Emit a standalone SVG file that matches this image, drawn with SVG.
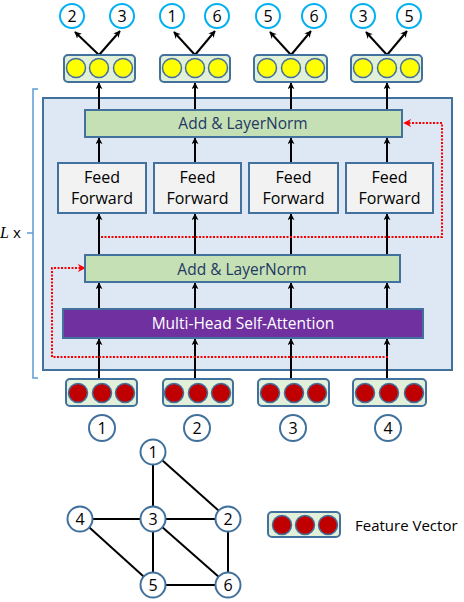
<svg xmlns="http://www.w3.org/2000/svg" width="464" height="602" viewBox="0 0 464 602">
<defs>
<marker id="ah" viewBox="0 0 10 10" refX="9" refY="5" markerWidth="7" markerHeight="7" orient="auto" markerUnits="userSpaceOnUse">
<path d="M0,0 L10,5 L0,10 L3,5 z" fill="#000"/>
</marker>
<marker id="ahr" viewBox="0 0 10 10" refX="9" refY="5" markerWidth="8" markerHeight="8" orient="auto" markerUnits="userSpaceOnUse">
<path d="M0,0 L10,5 L0,10 L3,5 z" fill="#FF0000"/>
</marker>
<style>
.t{font-family:"Open Sans","Liberation Sans",sans-serif;}
.fv{fill:#E2F0D9;stroke:#41719C;stroke-width:2;}
.yc{fill:#FFFF00;stroke:#41719C;stroke-width:1.5;}
.rc{fill:#C00000;stroke:#41719C;stroke-width:1.5;}
.oc{fill:#fff;stroke:#00B0F0;stroke-width:2;}
.nc{fill:#fff;stroke:#41719C;stroke-width:2;}
.ln{fill:#C5E0B4;stroke:#41719C;stroke-width:2;}
.ff{fill:#F2F2F2;stroke:#41719C;stroke-width:2;}
.ar{stroke:#000;stroke-width:2;fill:none;marker-end:url(#ah);}
.ed{stroke:#000;stroke-width:2;fill:none;}
.rd{stroke:#FF0000;stroke-width:2;stroke-dasharray:2,1.5;fill:none;marker-end:url(#ahr);}
.lbl{font-size:16px;fill:#000;text-anchor:middle;}
</style>
</defs>

<g id="bracket">
<path d="M38,89 H33 V378 H38" fill="none" stroke="#5B9BD5" stroke-width="1.5"/>
<line x1="27" y1="233" x2="33" y2="233" stroke="#5B9BD5" stroke-width="1.5"/>
<text x="0" y="238" font-family="Liberation Serif,serif" font-style="italic" font-size="16">L</text>
<text x="13" y="238" class="t" font-size="15">x</text>
</g>

<g id="layer">
<rect x="43" y="98" width="409" height="272" fill="#DEE8F5" stroke="#41719C" stroke-width="2"/>
</g>

<g id="connectors">
<path class="ar" d="M99,55 L75,32"/><path class="ar" d="M99,55 L120,31"/>
<path class="ar" d="M195,55 L174,32"/><path class="ar" d="M195,55 L215,31"/>
<path class="ar" d="M291,55 L270,32"/><path class="ar" d="M291,55 L311,31"/>
<path class="ar" d="M387,55 L366,32"/><path class="ar" d="M387,55 L407,31"/>
<path class="ar" d="M99,110 V83"/><path class="ar" d="M195,110 V83"/><path class="ar" d="M291,110 V83"/><path class="ar" d="M387,110 V83"/>
<path class="ar" d="M99,163 V138"/><path class="ar" d="M195,163 V138"/><path class="ar" d="M291,163 V138"/><path class="ar" d="M387,163 V138"/>
<path class="ar" d="M99,255 V214"/><path class="ar" d="M195,255 V214"/><path class="ar" d="M291,255 V214"/><path class="ar" d="M387,255 V214"/>
<path class="ar" d="M99,309 V283"/><path class="ar" d="M195,309 V283"/><path class="ar" d="M291,309 V283"/><path class="ar" d="M387,309 V283"/>
<path class="ar" d="M99,380 V339"/><path class="ar" d="M195,380 V339"/><path class="ar" d="M291,380 V339"/><path class="ar" d="M387,380 V339"/>
<path class="rd" d="M101,237 H442 V123 H404"/>
<path class="rd" d="M388,357 H52 V268 H85"/>
<line class="ed" x1="153" y1="452" x2="153" y2="519"/>
<line class="ed" x1="153" y1="452" x2="228" y2="519"/>
<line class="ed" x1="80" y1="519" x2="228" y2="519"/>
<line class="ed" x1="80" y1="519" x2="153" y2="585"/>
<line class="ed" x1="153" y1="519" x2="153" y2="585"/>
<line class="ed" x1="153" y1="519" x2="228" y2="585"/>
<line class="ed" x1="228" y1="519" x2="228" y2="585"/>
<line class="ed" x1="153" y1="585" x2="228" y2="585"/>
</g>

<g id="add-norm-top">
<rect class="ln" x="85" y="110" width="317" height="27"/>
<text class="t" x="243" y="128.5" font-size="15.5" fill="#1F3864" text-anchor="middle">Add &amp; LayerNorm</text>
</g>

<g id="ff1"><rect class="ff" x="58" y="163" width="88" height="50"/><text class="t lbl" x="102" y="182.5">Feed</text><text class="t lbl" x="102" y="203.5">Forward</text></g>
<g id="ff2"><rect class="ff" x="154" y="163" width="87" height="50"/><text class="t lbl" x="197.5" y="182.5">Feed</text><text class="t lbl" x="197.5" y="203.5">Forward</text></g>
<g id="ff3"><rect class="ff" x="249" y="163" width="89" height="50"/><text class="t lbl" x="293.5" y="182.5">Feed</text><text class="t lbl" x="293.5" y="203.5">Forward</text></g>
<g id="ff4"><rect class="ff" x="346" y="163" width="87" height="50"/><text class="t lbl" x="389.5" y="182.5">Feed</text><text class="t lbl" x="389.5" y="203.5">Forward</text></g>

<g id="add-norm-bottom">
<rect class="ln" x="85" y="255" width="315" height="27"/>
<text class="t" x="242" y="274.5" font-size="15.5" fill="#1F3864" text-anchor="middle">Add &amp; LayerNorm</text>
</g>

<g id="mhsa">
<rect x="63" y="309" width="360" height="29" fill="#7030A0" stroke="#41719C" stroke-width="2"/>
<text class="t" x="243" y="329" font-size="15.5" fill="#fff" text-anchor="middle">Multi-Head Self-Attention</text>
</g>

<g id="out1"><rect class="fv" x="64" y="55" width="71" height="27" rx="4"/><circle class="yc" cx="76" cy="68" r="9.5"/><circle class="yc" cx="99" cy="68" r="9.5"/><circle class="yc" cx="123" cy="68" r="9.5"/></g>
<g id="out2"><rect class="fv" x="160" y="55" width="70" height="27" rx="4"/><circle class="yc" cx="172" cy="68" r="9.5"/><circle class="yc" cx="195" cy="68" r="9.5"/><circle class="yc" cx="218" cy="68" r="9.5"/></g>
<g id="out3"><rect class="fv" x="254" y="55" width="73" height="27" rx="4"/><circle class="yc" cx="267" cy="68" r="9.5"/><circle class="yc" cx="291" cy="68" r="9.5"/><circle class="yc" cx="315" cy="68" r="9.5"/></g>
<g id="out4"><rect class="fv" x="351" y="55" width="71" height="27" rx="4"/><circle class="yc" cx="363" cy="68" r="9.5"/><circle class="yc" cx="387" cy="68" r="9.5"/><circle class="yc" cx="410" cy="68" r="9.5"/></g>

<g id="o1a"><circle class="oc" cx="72" cy="16" r="12"/><text class="t lbl" x="72" y="22">2</text></g>
<g id="o1b"><circle class="oc" cx="122" cy="16" r="12"/><text class="t lbl" x="122" y="22">3</text></g>
<g id="o2a"><circle class="oc" cx="172" cy="16" r="12"/><text class="t lbl" x="172" y="22">1</text></g>
<g id="o2b"><circle class="oc" cx="217" cy="16" r="12"/><text class="t lbl" x="217" y="22">6</text></g>
<g id="o3a"><circle class="oc" cx="268" cy="16" r="12"/><text class="t lbl" x="268" y="22">5</text></g>
<g id="o3b"><circle class="oc" cx="314" cy="16" r="12"/><text class="t lbl" x="314" y="22">6</text></g>
<g id="o4a"><circle class="oc" cx="363" cy="16" r="12"/><text class="t lbl" x="363" y="22">3</text></g>
<g id="o4b"><circle class="oc" cx="409" cy="16" r="12"/><text class="t lbl" x="409" y="22">5</text></g>

<g id="in1"><rect class="fv" x="66" y="379" width="71" height="27" rx="4"/><circle class="rc" cx="78" cy="393" r="9.5"/><circle class="rc" cx="102" cy="393" r="9.5"/><circle class="rc" cx="125" cy="393" r="9.5"/></g>
<g id="in2"><rect class="fv" x="163" y="379" width="70" height="27" rx="4"/><circle class="rc" cx="174" cy="393" r="9.5"/><circle class="rc" cx="198" cy="393" r="9.5"/><circle class="rc" cx="221" cy="393" r="9.5"/></g>
<g id="in3"><rect class="fv" x="258" y="379" width="71" height="27" rx="4"/><circle class="rc" cx="270" cy="393" r="9.5"/><circle class="rc" cx="294" cy="393" r="9.5"/><circle class="rc" cx="317" cy="393" r="9.5"/></g>
<g id="in4"><rect class="fv" x="353" y="379" width="73" height="27" rx="4"/><circle class="rc" cx="365" cy="393" r="9.5"/><circle class="rc" cx="389" cy="393" r="9.5"/><circle class="rc" cx="414" cy="393" r="9.5"/></g>

<g id="i1"><circle class="nc" cx="102" cy="428" r="13"/><text class="t lbl" x="102" y="434">1</text></g>
<g id="i2"><circle class="nc" cx="197" cy="428" r="13"/><text class="t lbl" x="197" y="434">2</text></g>
<g id="i3"><circle class="nc" cx="293" cy="428" r="13"/><text class="t lbl" x="293" y="434">3</text></g>
<g id="i4"><circle class="nc" cx="388" cy="428" r="13"/><text class="t lbl" x="388" y="434">4</text></g>

<g id="g1"><circle class="nc" cx="153" cy="452" r="12.5"/><text class="t lbl" x="153" y="458">1</text></g>
<g id="g2"><circle class="nc" cx="228" cy="519" r="12.5"/><text class="t lbl" x="228" y="525">2</text></g>
<g id="g3"><circle class="nc" cx="153" cy="519" r="12.5"/><text class="t lbl" x="153" y="525">3</text></g>
<g id="g4"><circle class="nc" cx="80" cy="519" r="12.5"/><text class="t lbl" x="80" y="525">4</text></g>
<g id="g5"><circle class="nc" cx="153" cy="585" r="12.5"/><text class="t lbl" x="153" y="591">5</text></g>
<g id="g6"><circle class="nc" cx="228" cy="585" r="12.5"/><text class="t lbl" x="228" y="591">6</text></g>

<g id="legend">
<rect class="fv" x="268" y="512" width="72" height="25" rx="4"/>
<circle class="rc" cx="282" cy="525" r="9.5"/><circle class="rc" cx="305" cy="525" r="9.5"/><circle class="rc" cx="328" cy="525" r="9.5"/>
<text class="t" x="355" y="530.5" font-size="15" fill="#000">Feature Vector</text>
</g>
</svg>
